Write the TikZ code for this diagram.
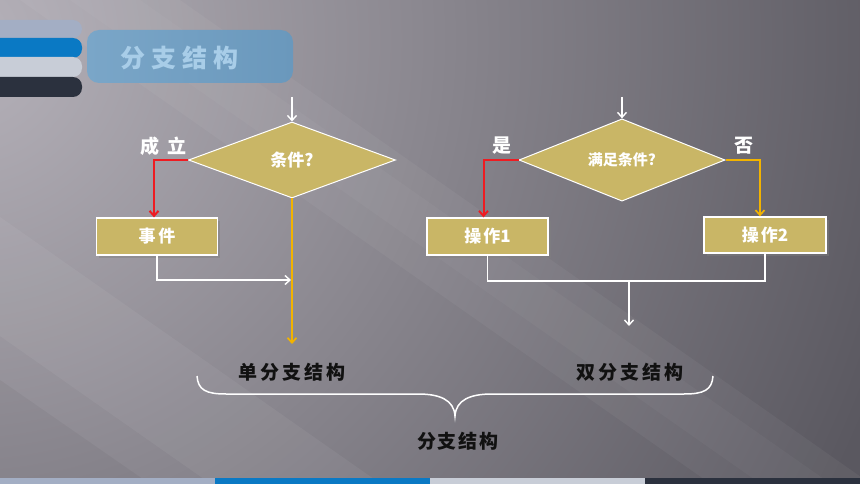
\documentclass[tikz,border=0pt]{standalone}
\usepackage{fontspec}
\newfontfamily\cjk{Noto Sans CJK SC}
\usetikzlibrary{arrows.meta,shapes.geometric,shadows}
\definecolor{bgbase}{HTML}{5A5860}
\definecolor{bglight}{HTML}{B6B2BA}
\definecolor{tanc}{HTML}{C9B666}
\definecolor{redc}{HTML}{EE1C22}
\definecolor{yelc}{HTML}{F2B300}
\definecolor{barA}{HTML}{A3AEC4}
\definecolor{barB}{HTML}{0A79C4}
\definecolor{barC}{HTML}{C8CDD7}
\definecolor{barD}{HTML}{2B313E}
\definecolor{titlefill}{HTML}{6A98BC}
\definecolor{titlefillL}{HTML}{7AA6C8}
\definecolor{titletext}{HTML}{A8CDE8}
\definecolor{labeldark}{HTML}{111111}
\newcommand{\fsz}[1]{\fontsize{#1pt}{#1pt}\selectfont}
\begin{document}
\begin{tikzpicture}[x=1pt,y=-1pt,
  every node/.style={inner sep=0pt, font=\cjk\bfseries},
  opbox/.style={draw=white, line width=1.3pt, fill=tanc, minimum width=121pt, minimum height=37pt, text=white,
    drop shadow={shadow xshift=2.5pt, shadow yshift=-3pt, opacity=.45}},
  dia/.style={diamond, draw=white, line width=1pt, fill=tanc, minimum width=207pt, minimum height=76pt, text=white},
  tipend/.style={-{Straight Barb[length=5pt,width=9pt]}},
  wline/.style={draw=white, line width=1.4pt},
  warr/.style={wline, tipend},
  rarr/.style={draw=redc, line width=2pt, tipend},
  yarr/.style={draw=yelc, line width=1.7pt, tipend},
  wlabel/.style={text=white},
  blabel/.style={text=labeldark},
]
% ---------- background ----------
\useasboundingbox (0,0) rectangle (860,484);
\begin{scope}
  \clip (0,0) rectangle (860,484);
  \fill[bgbase] (0,0) rectangle (860,484);
  \shade[inner color=bglight, outer color=bgbase] (-40,40) circle (980pt);
  \fill[white, opacity=.045] (20,0) -- (180,0) -- (871,484) -- (711,484) -- cycle;
  \fill[white, opacity=.03] (70,0) -- (140,0) -- (831,484) -- (761,484) -- cycle;
  \fill[white, opacity=.05] (0,217) -- (0,336) -- (211,484) -- (381,484) -- cycle;
  \fill[black, opacity=.04] (0,380) -- (0,484) -- (150,484) -- cycle;
\end{scope}
% ---------- header bars ----------
\fill[barA, rounded corners=9pt] (-20,20) rectangle (82,38);
\fill[barB, rounded corners=9pt] (-20,38) rectangle (82,58);
\fill[barC, rounded corners=9pt] (-20,57) rectangle (82,77);
\fill[barD, rounded corners=9pt] (-20,77) rectangle (82,97);
\shade[left color=titlefillL, right color=titlefill, rounded corners=12pt] (87,30) rectangle (293,83);
\node[text=titletext] (title) at (179,58) {\fsz{25}分\hspace{6pt}支\hspace{6pt}结\hspace{6pt}构};
% ---------- bottom bar ----------
\fill[barA] (0,478) rectangle (215,484);
\fill[barB] (215,478) rectangle (430,484);
\fill[barC] (430,478) rectangle (645,484);
\fill[barD] (645,478) rectangle (860,484);
% ---------- single branch ----------
\node[dia] (dL) at (292,160) {\fsz{17}条件?};
\node[opbox] (e1) at (157,236.5) {\fsz{17}事\hspace{3pt}件};
\coordinate (inL) at (292,97);
\coordinate (endL) at (292,344);
\coordinate (mergeL) at (291,280);
\draw[warr] (inL) -- (dL.north);
\draw[rarr] (dL.west) -| ([xshift=-3pt]e1.north);
\draw[yarr] (dL.south) -- (endL);
\draw[warr] (e1.south) |- (mergeL);
\node[wlabel] (yesL) at (163,146) {\fsz{19}成\hspace{8pt}立};
% ---------- double branch ----------
\node[dia, minimum width=206pt, minimum height=75pt] (dR) at (622,160) {\fsz{15}满足条件?};
\node[opbox] (o1) at (487.5,236.5) {\fsz{17}操\hspace{2pt}作1};
\node[opbox, minimum width=122pt, minimum height=36pt] (o2) at (765,235) {\fsz{17}操\hspace{2pt}作2};
\coordinate (inR) at (622,97);
\coordinate (jn) at (629,281);
\coordinate (endR) at (629,326);
\draw[warr] (inR) -- (dR.north);
\draw[rarr] (dR.west) -| ([xshift=-4pt]o1.north);
\draw[yarr] (dR.east) -| ([xshift=-5pt]o2.north);
\draw[wline] (o1.south) |- (jn) -| (o2.south);
\draw[warr] (jn) -- (endR);
\node[wlabel] (yesR) at (502,146) {\fsz{19}是};
\node[wlabel] (noR) at (744,146) {\fsz{19}否};
% ---------- labels and brace ----------
\node[blabel] (single) at (292,372) {\fsz{19}单\,分\,支\,结\,构};
\node[blabel] (double) at (630,372) {\fsz{19}双\,分\,支\,结\,构};
\coordinate (bl) at (197,376);
\coordinate (br) at (713,376);
\coordinate (bt) at (455,416);
\draw[white, line width=1.5pt]
  (bl) .. controls (198,390) and (206,394) .. (226,394) -- (418,394)
  .. controls (440,394) and (454,400) .. (bt)
  .. controls (456,400) and (470,394) .. (492,394) -- (684,394)
  .. controls (704,394) and (712,390) .. (br);
\node[blabel] (whole) at (458,441) {\fsz{19}分\hspace{2pt}支\hspace{2pt}结\hspace{2pt}构};
\end{tikzpicture}
\end{document}
